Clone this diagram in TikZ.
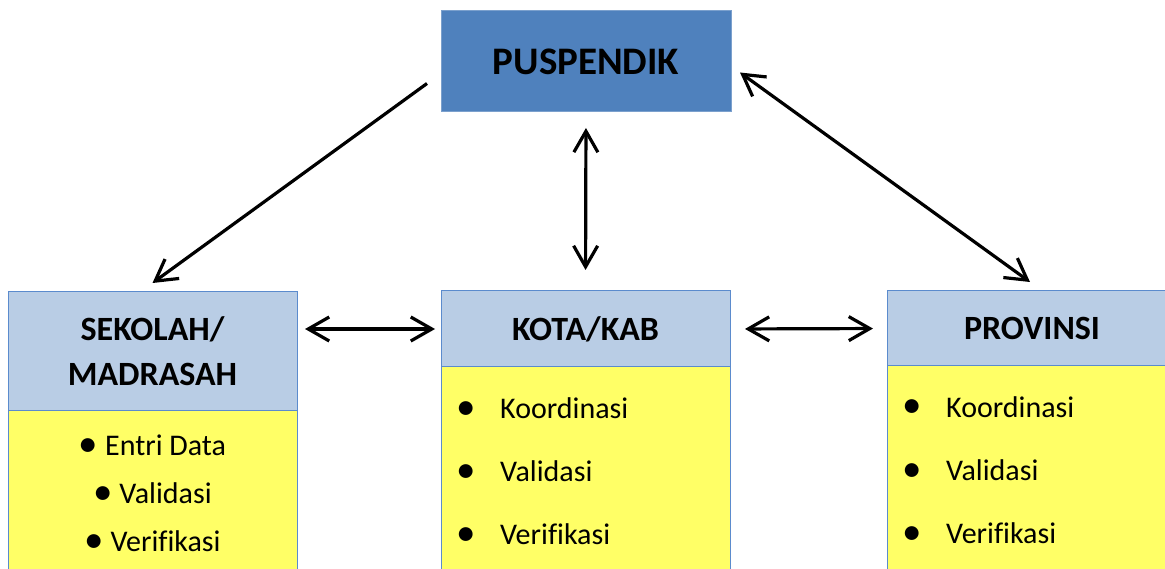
\documentclass[tikz,border=0pt]{standalone}
\usepackage{fontspec}
\setmainfont{Carlito}[Ligatures=NoCommon]
\usetikzlibrary{positioning,arrows.meta,calc}
\tikzstyle{diagram} = [x = 1pt, y = -1pt]
\definecolor{topColor}{RGB}{79,129,189}
\definecolor{headColor}{RGB}{185,205,229}
\definecolor{lineColor}{RGB}{91,139,205}
\definecolor{bodyColor}{RGB}{255,255,102}
\tikzstyle{topBox} = [rectangle, fill=topColor, draw=topColor!75!white, line width=1pt, outer sep=0pt, minimum width=290pt, minimum height=101pt, font=\fontsize{39}{40}\selectfont\bfseries]
\tikzstyle{headBox} = [rectangle, fill=headColor, draw=lineColor, line width=1pt, outer sep=0pt, minimum width=289pt, align=center, anchor=north west, font=\fontsize{34}{45}\selectfont\bfseries]
\tikzstyle{bodyBox} = [rectangle, fill=bodyColor, draw=lineColor, line width=1pt, outer sep=0pt, minimum width=289pt, minimum height=230pt, anchor=north west]
\tikzstyle{itemText} = [font=\fontsize{30}{35}\selectfont, inner sep=0pt]
\tikzstyle{linkLine} = [line width=3.2pt, color=black]
\tikzstyle{oneWay} = [linkLine, -{Straight Barb[length=21pt, width=24pt]}]
\tikzstyle{twoWay} = [linkLine, {Straight Barb[length=21pt, width=24pt]}-{Straight Barb[length=21pt, width=24pt]}]
\newcommand{\bigBullet}{\raisebox{-1pt}{\scalebox{1.3}{\textbullet}}}
\newcommand{\bulletItem}[1]{\makebox[44pt][l]{\bigBullet}#1}
\begin{document}
\begin{tikzpicture}[diagram]
  \useasboundingbox (0,0) rectangle (1165,569);
  \clip (0,0) rectangle (1165,569);

  % boxes
  \node[topBox] (puspendik) at (586, 61.5) {PUSPENDIK};

  \node[headBox, minimum height=118pt] (sekolah) at (8, 292) {SEKOLAH/\\MADRASAH};
  \node[bodyBox] (sekolahBody) at (sekolah.south west) {};

  \node[headBox, minimum height=76pt] (kota) at (441, 291) {KOTA/KAB};
  \node[bodyBox] (kotaBody) at (kota.south west) {};

  \node[headBox, minimum height=75pt, minimum width=290pt] (provinsi) at (887, 291) {PROVINSI};
  \node[bodyBox, minimum width=290pt] (provinsiBody) at (provinsi.south west) {};

  % lists
  \foreach \itemName [count=\i] in {Entri Data, Validasi, Verifikasi}
    \node[itemText, anchor=base] (sekolahItem\i) at ($(sekolahBody.north) + (0, -3 + 48*\i)$) {\bigBullet\ \itemName};
  \foreach \itemName [count=\i] in {Koordinasi, Validasi, Verifikasi} {
    \node[itemText, anchor=base west] (kotaItem\i) at ($(kotaBody.north west) + (15, -12 + 63*\i)$) {\bulletItem{\itemName}};
    \node[itemText, anchor=base west] (provinsiItem\i) at ($(provinsiBody.north west) + (15, -12 + 63*\i)$) {\bulletItem{\itemName}};
  }

  % links
  \draw[oneWay] ([shift={(-14,22)}]puspendik.west) -- ([shift={(0,-9)}]sekolah.north);
  \draw[twoWay, shorten <=16pt, shorten >=21pt] (puspendik.south) -- (kota.north);
  \draw[twoWay] ([shift={(9,11)}]puspendik.east) -- ([shift={(-2,-9)}]provinsi.north);
  \draw[twoWay, shorten <=8pt, shorten >=6pt] (sekolah.east |- kota.west) -- (kota.west);
  \draw[twoWay, shorten <=15pt, shorten >=14pt] (kota.east) -- (provinsi.west);
\end{tikzpicture}
\end{document}
